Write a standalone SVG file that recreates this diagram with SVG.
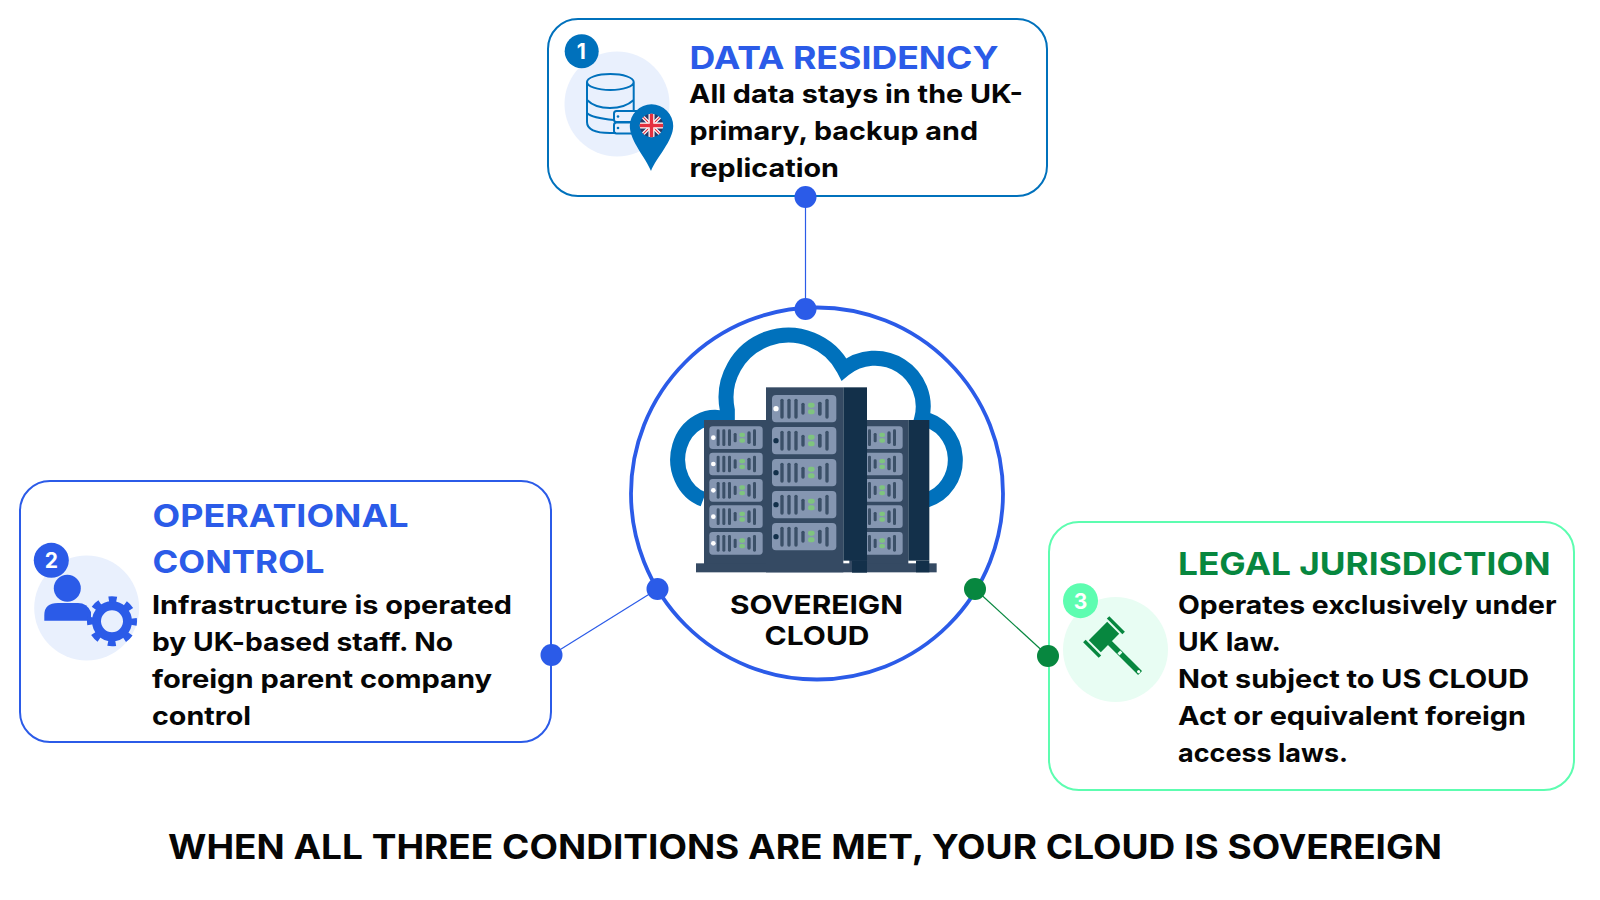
<svg xmlns="http://www.w3.org/2000/svg" width="1600" height="900" viewBox="0 0 1600 900">
<style>
text{font-family:"Inter","Liberation Sans",sans-serif;font-weight:700}
.body{font-size:25.5px;fill:#060606;font-weight:700}
.title{font-size:31.5px}
.blue{fill:#2B5BE8}
.green{fill:#07873F}
.head{font-size:26px;fill:#060606;font-weight:700}
.foot{font-size:33.5px;fill:#060606;font-weight:700}
.num{font-size:21px;fill:#fff;text-anchor:middle}
.box{fill:#fff;stroke-width:2}
.p{fill:#E9F0FD}
.db{fill:none;stroke:#0071BC;stroke-width:2}
.panel{fill:#8596B1}
.slot{fill:#3B5068}
.led{fill:#7FC47F}
</style>
<defs>
<clipPath id="flagclip"><circle cx="651.5" cy="125.5" r="11.7"/></clipPath>
<g id="cp">
<rect class="panel" x="0" y="0" width="193" height="82" rx="12"/>
<rect class="slot" x="25" y="11" width="10" height="60" rx="5"/>
<rect class="slot" x="46" y="11" width="10" height="60" rx="5"/>
<rect class="slot" x="67" y="11" width="10" height="60" rx="5"/>
<rect class="slot" x="88" y="23" width="10" height="36" rx="5"/>
<rect class="led" x="108" y="23" width="20" height="15" rx="7"/>
<rect class="led" x="108" y="43" width="20" height="15" rx="7"/>
<rect class="slot" x="138" y="20" width="11" height="42" rx="5"/>
<rect class="slot" x="160" y="11" width="10" height="60" rx="5"/>
</g>
<g id="sp">
<rect class="panel" x="0" y="0" width="160" height="68" rx="10"/>
<rect class="slot" x="22" y="9" width="9" height="50" rx="4"/>
<rect class="slot" x="39" y="9" width="9" height="50" rx="4"/>
<rect class="slot" x="56" y="9" width="9" height="50" rx="4"/>
<rect class="slot" x="73" y="20" width="9" height="28" rx="4"/>
<rect class="led" x="90" y="19" width="17" height="13" rx="6"/>
<rect class="led" x="90" y="36" width="17" height="13" rx="6"/>
<rect class="slot" x="114" y="15" width="10" height="38" rx="5"/>
<rect class="slot" x="131" y="9" width="9" height="50" rx="4"/>
</g>
</defs>
<rect width="1600" height="900" fill="#fff"/>

<g id="connectors" fill="none" stroke-width="1.2">
<line x1="805.500" y1="197" x2="805.500" y2="309" stroke="#2B5BE8"/>
<line x1="551.500" y1="655" x2="657.500" y2="589" stroke="#2B5BE8"/>
<line x1="975" y1="589" x2="1048" y2="656" stroke="#07873F"/>
</g>

<g id="center">
<circle cx="817" cy="493.500" r="186" fill="none" stroke="#2B5BE8" stroke-width="3.8"/>
<g transform="translate(640 310) scale(.33333)">
<path d="M190 568A112 125 0 1 1 262 329L262 300A187 187 0 0 1 612 178A145 145 0 0 1 845 326A118 125 0 0 1 860 570" fill="#fff" stroke="#0071BC" stroke-width="45"/>
<g id="right-rack">
<rect x="628" y="330" width="177" height="432" fill="#354A63"/>
<rect x="805" y="330" width="63" height="422" fill="#13304A"/>
<use href="#sp" x="628" y="349"/><use href="#sp" x="628" y="428"/><use href="#sp" x="628" y="507"/><use href="#sp" x="628" y="586"/><use href="#sp" x="628" y="666"/>
</g>
<g id="left-rack">
<rect x="192" y="330" width="186" height="432" fill="#354A63"/>
<use href="#sp" x="208" y="349"/><use href="#sp" x="208" y="428"/><use href="#sp" x="208" y="507"/><use href="#sp" x="208" y="586"/><use href="#sp" x="208" y="666"/>
<g fill="#fff"><circle cx="220" cy="383" r="7"/><circle cx="220" cy="462" r="7"/><circle cx="220" cy="541" r="7"/><circle cx="220" cy="620" r="7"/><circle cx="220" cy="700" r="7"/></g>
</g>
<rect x="168" y="760" width="722" height="27" fill="#354A63"/>
<rect x="378" y="232" width="232" height="555" fill="#354A63"/>
<rect x="610" y="232" width="71" height="520" fill="#13304A"/>
<rect x="636" y="752" width="45" height="36" fill="#13304A"/>
<rect x="828" y="752" width="40" height="35" fill="#13304A"/>
<use href="#cp" x="396" y="255"/><use href="#cp" x="396" y="351"/><use href="#cp" x="396" y="447"/><use href="#cp" x="396" y="543"/><use href="#cp" x="396" y="639"/>
<circle cx="408" cy="296" r="8" fill="#fff"/>
<g fill="#13304A"><circle cx="408" cy="392" r="8"/><circle cx="408" cy="488" r="8"/><circle cx="408" cy="584" r="8"/><circle cx="408" cy="680" r="8"/></g>
</g>
<text class="head" x="730" y="614" textLength="173" lengthAdjust="spacingAndGlyphs">SOVEREIGN</text>
<text class="head" x="764.500" y="645" textLength="105" lengthAdjust="spacingAndGlyphs">CLOUD</text>
</g>

<g id="node-1">
<rect class="box" x="548" y="19" width="499" height="177" rx="30" stroke="#0071BC"/>
<circle class="p" cx="617" cy="104" r="52.5"/>
<path class="db" d="M587 82V122Q587 133 610 133H616M633.7 82V110M587 82A23.3 8 0 0 1 633.7 82A23.3 8 0 0 1 587 82ZM587 100Q595 108 610 108T633.7 100M587 113Q592 118 614 120"/>
<rect class="db" x="614" y="111" width="28" height="11" rx="2.5" fill="#E9F0FD"/>
<rect class="db" x="614" y="122.500" width="28" height="11" rx="2.500" fill="#E9F0FD"/>
<circle cx="618" cy="116.500" r="1.300" fill="#0071BC"/><circle cx="618" cy="128" r="1.300" fill="#0071BC"/>
<path d="M651 171C646 158 629.800 141 629.800 126A21.700 21.700 0 0 1 673.200 126C673.200 141 656 158 651 171Z" fill="#0071BC"/>
<g clip-path="url(#flagclip)">
<rect x="639" y="113" width="25" height="25" fill="#2B3A67"/>
<path d="M639 113L664 138M664 113L639 138" stroke="#fff" stroke-width="3.500"/>
<path d="M639 113L664 138M664 113L639 138" stroke="#E5303F" stroke-width="1.200"/>
<path d="M651.500 113V138M639 125.500H664" stroke="#fff" stroke-width="6"/>
<path d="M651.500 113V138M639 125.500H664" stroke="#E5303F" stroke-width="3.500"/>
</g>
<circle cx="581.700" cy="51.300" r="17" fill="#0071BC"/>
<text class="num" x="581.200" y="59">1</text>
<text class="title blue" x="689.500" y="69" textLength="309" lengthAdjust="spacingAndGlyphs">DATA RESIDENCY</text>
<text class="body" x="689" y="103" textLength="334" lengthAdjust="spacingAndGlyphs">All data stays in the UK-</text>
<text class="body" x="689.500" y="140" textLength="288.500" lengthAdjust="spacingAndGlyphs">primary, backup and</text>
<text class="body" x="689.500" y="177" textLength="149.500" lengthAdjust="spacingAndGlyphs">replication</text>
<circle cx="805.500" cy="197" r="11" fill="#2B5BE8"/>
</g>
<circle cx="805.500" cy="309" r="11" fill="#2B5BE8"/>

<g id="node-2">
<rect class="box" x="20" y="481" width="531" height="261" rx="30" stroke="#2B5BE8"/>
<circle class="p" cx="86.700" cy="608" r="52.500"/>
<circle cx="67.300" cy="588.300" r="13.500" fill="#2B5BE8"/>
<path d="M44.300 620.700V615Q44.300 603 58 603H78Q87 603 91 612L91 620.700Z" fill="#2B5BE8"/>
<circle cx="112" cy="621.300" r="15.500" fill="#E9F0FD" stroke="#2B5BE8" stroke-width="9"/>
<circle cx="112" cy="621.300" r="22" fill="none" stroke="#2B5BE8" stroke-width="6" stroke-dasharray="8 9.280" stroke-dashoffset="4"/>
<circle cx="51.300" cy="560.300" r="17.500" fill="#2B5BE8"/>
<text class="num" x="51.300" y="568">2</text>
<text class="title blue" x="152.500" y="527" textLength="256" lengthAdjust="spacingAndGlyphs">OPERATIONAL</text>
<text class="title blue" x="152.500" y="573" textLength="172" lengthAdjust="spacingAndGlyphs">CONTROL</text>
<text class="body" x="152" y="614" textLength="360" lengthAdjust="spacingAndGlyphs">Infrastructure is operated</text>
<text class="body" x="152" y="651" textLength="301" lengthAdjust="spacingAndGlyphs">by UK-based staff. No</text>
<text class="body" x="152" y="688" textLength="340" lengthAdjust="spacingAndGlyphs">foreign parent company</text>
<text class="body" x="152" y="725" textLength="99" lengthAdjust="spacingAndGlyphs">control</text>
<circle cx="551.500" cy="655" r="11" fill="#2B5BE8"/>
</g>
<circle cx="657.500" cy="589" r="11" fill="#2B5BE8"/>

<g id="node-3">
<rect class="box" x="1049" y="522" width="525" height="268" rx="30" stroke="#5DFDB0"/>
<circle cx="1115.500" cy="649.500" r="52.500" fill="#E8FDF3"/>
<g transform="translate(1104 637) rotate(45)" fill="#07873F">
<rect x="-8.500" y="-13" width="17" height="26"/>
<rect x="-11" y="-18.500" width="22" height="3.500"/>
<rect x="-11" y="15" width="22" height="3.500"/>
<rect x="8" y="-2.800" width="43" height="5.600"/>
<rect x="21" y="-2" width="3" height="4" fill="#E8FDF3"/>
<circle cx="49" cy="0" r="1.600" fill="#fff"/>
</g>
<circle cx="1080.500" cy="600.700" r="17.500" fill="#5DFDB0"/>
<text class="num" x="1080.500" y="608.500">3</text>
<text class="title green" x="1178" y="575" textLength="372.500" lengthAdjust="spacingAndGlyphs">LEGAL JURISDICTION</text>
<text class="body" x="1178" y="614" textLength="378.500" lengthAdjust="spacingAndGlyphs">Operates exclusively under</text>
<text class="body" x="1178" y="651" textLength="103" lengthAdjust="spacingAndGlyphs">UK law.</text>
<text class="body" x="1178" y="688" textLength="351" lengthAdjust="spacingAndGlyphs">Not subject to US CLOUD</text>
<text class="body" x="1178" y="725" textLength="348" lengthAdjust="spacingAndGlyphs">Act or equivalent foreign</text>
<text class="body" x="1178" y="762" textLength="170" lengthAdjust="spacingAndGlyphs">access laws.</text>
<circle cx="1048" cy="656" r="11" fill="#07873F"/>
</g>
<circle cx="975" cy="589" r="11" fill="#07873F"/>

<text id="footer" class="foot" x="168" y="859" textLength="1274" lengthAdjust="spacingAndGlyphs">WHEN ALL THREE CONDITIONS ARE MET, YOUR CLOUD IS SOVEREIGN</text>
</svg>
